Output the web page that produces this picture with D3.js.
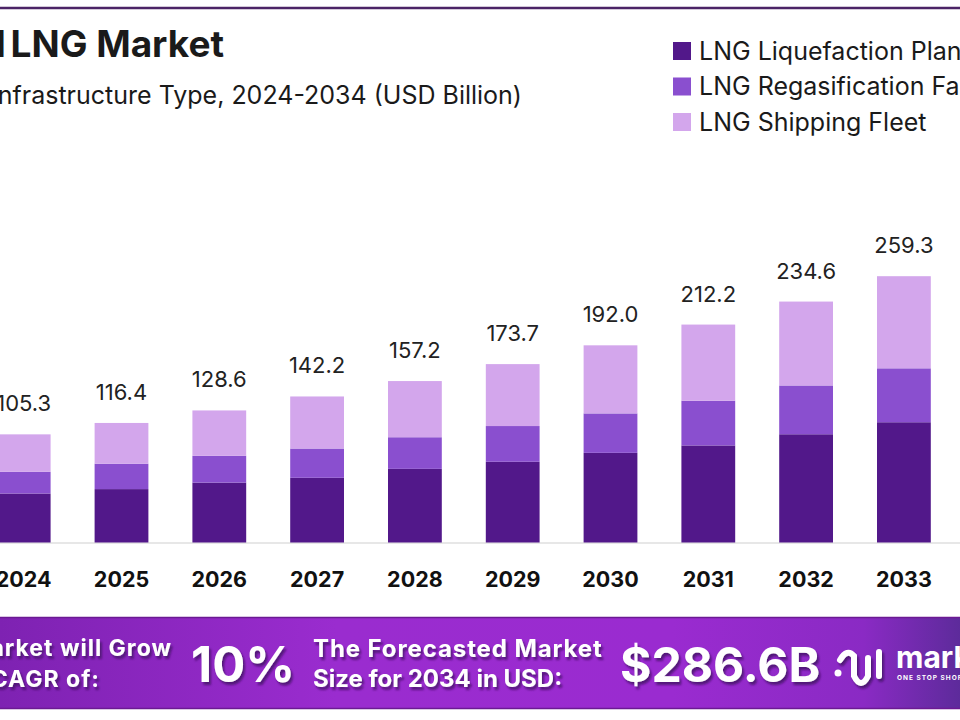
<!DOCTYPE html>
<html>
<head>
<meta charset="utf-8">
<script src="https://cdn.jsdelivr.net/npm/d3@7/dist/d3.min.js"></script>
<style>
  html, body { margin: 0; padding: 0; background: #ffffff; overflow: hidden; }
  svg { display: block; }
</style>
</head>
<body>
<svg id="chart" width="960" height="720"></svg>
<script>
// ---------------- data ----------------
const years = ["2024","2025","2026","2027","2028","2029","2030","2031","2032","2033","2034"];
const liquefaction   = [47.7, 52.0, 58.3, 63.0, 71.7, 78.6, 87.3, 94.5, 105.4, 117.1, 129.0];
const regasification = [21.1, 24.7, 26.1, 28.5, 30.8, 34.8, 38.4, 43.5, 47.5, 52.5, 57.3];
const shipping       = [36.5, 39.7, 44.2, 50.7, 54.7, 60.3, 66.3, 74.2, 81.7, 89.7, 100.3];
const totals         = [105.3, 116.4, 128.6, 142.2, 157.2, 173.7, 192.0, 212.2, 234.6, 259.3, 286.6];
const seriesNames = ["LNG Liquefaction Plants", "LNG Regasification Facilities", "LNG Shipping Fleet"];
const seriesKeys  = ["liquefaction", "regasification", "shipping"];
const colors      = ["#52188a", "#8a4fcf", "#d3a6ec"];
const titleWords   = ["Global", " LNG Market"];
const subtitleText = "By Infrastructure Type, 2024-2034 (USD Billion)";
const cagrText     = "10%";
const forecastText = "$286.6B";

// ---------------- setup ----------------
const svg = d3.select("#chart");
const font = "Inter, 'Open Sans', sans-serif";

const table = years.map((y, i) => ({
  year: y,
  liquefaction: liquefaction[i],
  regasification: regasification[i],
  shipping: shipping[i],
  total: totals[i]
}));

const x = d3.scaleBand().domain(years).range([-25.2, 1050.6]).paddingInner(0.45).paddingOuter(0.225);
const y = d3.scaleLinear().domain([0, 300]).range([542.5, 234.4]);
const color = d3.scaleOrdinal().domain(seriesKeys).range(colors);

// top rule
svg.append("line").attr("x1", 0).attr("x2", 960).attr("y1", 8).attr("y2", 8)
  .attr("stroke", "#4b2466").attr("stroke-width", 2.5);

// title & subtitle
const title = svg.append("text").attr("x", 224).attr("y", 57).attr("text-anchor", "end")
  .attr("font-family", font).attr("font-weight", 700).attr("font-size", 37)
  .attr("fill", "#1a1a1a");
title.append("tspan").text(titleWords[0]);
title.append("tspan").attr("dx", -4).text(titleWords[1]);
svg.append("text").attr("x", 522).attr("y", 104).attr("text-anchor", "end")
  .attr("font-family", font).attr("font-weight", 400).attr("font-size", 25)
  .attr("fill", "#1a1a1a").text(subtitleText);

// legend
const legend = svg.append("g");
seriesNames.forEach((name, i) => {
  const g = legend.append("g").attr("transform", `translate(673,${51 + i * 35.5})`);
  g.append("rect").attr("x", 0).attr("y", -9).attr("width", 18).attr("height", 18)
    .attr("fill", colors[i]);
  g.append("text").attr("x", 26).attr("y", 8.5)
    .attr("font-family", font).attr("font-size", 25).attr("fill", "#1a1a1a").text(name);
});

// baseline axis line
svg.append("line").attr("x1", 0).attr("x2", 960).attr("y1", y(0) + 0.5).attr("y2", y(0) + 0.5)
  .attr("stroke", "#cfcfcf").attr("stroke-width", 1.2);

// stacked bars
const stacked = d3.stack().keys(seriesKeys)(table);
svg.append("g").selectAll("g").data(stacked).join("g")
  .attr("fill", d => color(d.key))
  .selectAll("rect").data(d => d).join("rect")
  .attr("x", d => x(d.data.year))
  .attr("width", x.bandwidth())
  .attr("y", d => y(d[1]))
  .attr("height", d => y(d[0]) - y(d[1]));

// value labels
svg.append("g").selectAll("text").data(table).join("text")
  .attr("x", d => x(d.year) + x.bandwidth() / 2)
  .attr("y", d => y(d.total) - 23)
  .attr("text-anchor", "middle")
  .attr("font-family", font).attr("font-size", 22).attr("fill", "#222")
  .text(d => d.total.toFixed(1));

// x axis labels
const xAxis = d3.axisBottom(x).tickSize(0).tickPadding(0);
const gx = svg.append("g").attr("transform", "translate(0,570)").call(xAxis);
gx.select(".domain").remove();
gx.selectAll("text")
  .attr("dy", 0).attr("y", 17)
  .attr("font-family", font).attr("font-weight", 700).attr("font-size", 21.5).attr("fill", "#111");

// ---------------- bottom banner ----------------
const defs = svg.append("defs");
const grad = defs.append("linearGradient").attr("id", "bannerGrad")
  .attr("x1", "0%").attr("x2", "100%").attr("y1", "0%").attr("y2", "0%");
grad.append("stop").attr("offset", "0%").attr("stop-color", "#7e22b2");
grad.append("stop").attr("offset", "35%").attr("stop-color", "#9a2ccf");
grad.append("stop").attr("offset", "70%").attr("stop-color", "#9a2bd0");
grad.append("stop").attr("offset", "90%").attr("stop-color", "#8a2ac4");
grad.append("stop").attr("offset", "100%").attr("stop-color", "#5d2b9b");
const shadow = defs.append("filter").attr("id", "txtShadow")
  .attr("x", "-10%").attr("y", "-20%").attr("width", "130%").attr("height", "160%");
shadow.append("feDropShadow").attr("dx", 2).attr("dy", 3).attr("stdDeviation", 1.2)
  .attr("flood-color", "#3c0a5e").attr("flood-opacity", 0.75);

svg.append("rect").attr("x", 0).attr("y", 617).attr("width", 960).attr("height", 92)
  .attr("fill", "url(#bannerGrad)");
svg.append("line").attr("x1", 0).attr("x2", 960).attr("y1", 617.5).attr("y2", 617.5)
  .attr("stroke", "#6b1a93").attr("stroke-width", 1.5);
svg.append("line").attr("x1", 0).attr("x2", 960).attr("y1", 708.5).attr("y2", 708.5)
  .attr("stroke", "#6b1a93").attr("stroke-width", 1.5);

const banner = svg.append("g").attr("fill", "#ffffff").attr("font-family", font)
  .attr("font-weight", 700).attr("filter", "url(#txtShadow)");
banner.append("text").attr("x", 172).attr("y", 656).attr("text-anchor", "end")
  .attr("font-size", 23).attr("letter-spacing", 1).text("The Market will Grow");
banner.append("text").attr("x", 100).attr("y", 687).attr("text-anchor", "end")
  .attr("font-size", 23).attr("letter-spacing", 1).text("At the CAGR of:");
banner.append("text").attr("x", 243).attr("y", 682).attr("text-anchor", "middle")
  .attr("font-size", 49).text(cagrText);
banner.append("text").attr("x", 313).attr("y", 657)
  .attr("font-size", 24).attr("letter-spacing", 0.9).text("The Forecasted Market");
banner.append("text").attr("x", 313).attr("y", 687)
  .attr("font-size", 24).text("Size for 2034 in USD:");
banner.append("text").attr("x", 620).attr("y", 682)
  .attr("font-size", 48).text(forecastText);

// logo icon
const logo = svg.append("g").attr("fill", "none").attr("stroke", "#ffffff")
  .attr("stroke-width", 6).attr("stroke-linecap", "round").attr("filter", "url(#txtShadow)");
logo.append("path").attr("d", "M840,660 Q847,648 854,656 L854,676 Q861,690 868,676 L868,658");
logo.append("line").attr("x1", 879).attr("x2", 879).attr("y1", 652).attr("y2", 676);
svg.append("circle").attr("cx", 838).attr("cy", 673).attr("r", 3.5).attr("fill", "#fff");
svg.append("text").attr("x", 896).attr("y", 668).attr("fill", "#fff")
  .attr("font-family", font).attr("font-weight", 700).attr("font-size", 30).text("market.us");
svg.append("text").attr("x", 897).attr("y", 680).attr("fill", "#fff")
  .attr("font-family", font).attr("font-weight", 700).attr("font-size", 6.5)
  .attr("letter-spacing", 1).text("ONE STOP SHOP FOR THE REPORTS");
</script>
</body>
</html>
